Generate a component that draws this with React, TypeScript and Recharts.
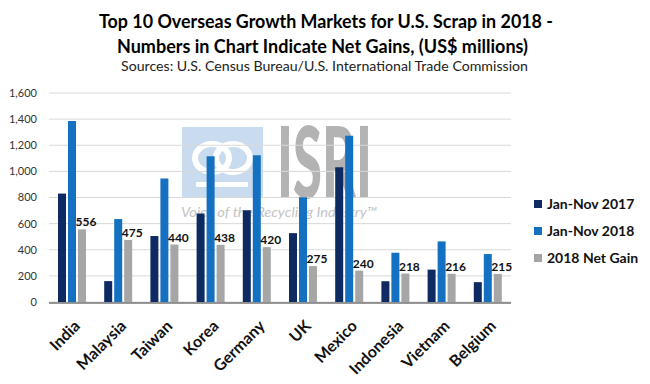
import { BarChart, Bar, XAxis, YAxis, CartesianGrid, LabelList } from "recharts";

const countries = ["India", "Malaysia", "Taiwan", "Korea", "Germany", "UK", "Mexico", "Indonesia", "Vietnam", "Belgium"];
const janNov2017 = [830, 160, 505, 677, 703, 527, 1032, 159, 248, 152];
const janNov2018 = [1386, 635, 945, 1115, 1123, 802, 1272, 377, 464, 367];
const netGain2018 = [556, 475, 440, 438, 420, 275, 240, 218, 216, 215];
const yTicks = [0, 200, 400, 600, 800, 1000, 1200, 1400, 1600];
const boundaryTicks = [0, 1, 2, 3, 4, 5, 6, 7, 8, 9, 10];

const seriesNames = ["Jan-Nov 2017", "Jan-Nov 2018", "2018 Net Gain"];
const colors = ["#0e2a63", "#1471c2", "#a6a6a6"];

const data = countries.map((c, i) => ({
  country: c,
  y2017: janNov2017[i],
  y2018: janNov2018[i],
  gain: netGain2018[i],
}));

const FONT = "Lato, 'Open Sans', sans-serif";

const CountryTick = ({ x, y, payload }: any) => {
  const ax = x + 9;
  const ay = y + 17;
  return (
    <text
      x={ax}
      y={ay}
      transform={`rotate(-45 ${ax} ${ay})`}
      textAnchor="end"
      fontFamily={FONT}
      fontWeight="bold"
      fontSize={16}
      fill="#111"
    >
      {payload.value}
    </text>
  );
};

const LegendBox = () => (
  <div
    style={{
      position: "absolute",
      left: 534,
      top: 190,
      fontFamily: FONT,
      fontWeight: "bold",
      fontSize: 14,
      color: "#111",
    }}
  >
    {seriesNames.map((name, i) => (
      <div key={name} style={{ display: "flex", alignItems: "center", height: 27 }}>
        <span style={{ width: 8, height: 8, background: colors[i], marginRight: 5, display: "inline-block" }} />
        {name}
      </div>
    ))}
  </div>
);

const Watermark = () => (
  <svg width={650} height={384} style={{ position: "absolute", left: 0, top: 0 }}>
    <rect x={182} y={127} width={81} height={71} fill="#c9dcef" />
    <ellipse cx={212} cy={158} rx={17} ry={14} fill="none" stroke="#fff" strokeWidth={6} />
    <ellipse cx={233} cy={158} rx={17} ry={14} fill="none" stroke="#fff" strokeWidth={6} />
    <rect x={196} y={182} width={52} height={5} fill="#fff" />
    <text x={277} y={198} fontFamily={FONT} fontWeight="900" fontSize={99} fill="#b3b3b3" textLength={95} lengthAdjust="spacingAndGlyphs">
      ISRI
    </text>
    <text x={181} y={217} fontFamily={FONT} fontStyle="italic" fontSize={14} fill="#c4c4c4" textLength={196} lengthAdjust="spacingAndGlyphs">
      Voice of the Recycling Industry™
    </text>
  </svg>
);

const Titles = () => (
  <svg width={650} height={384} style={{ position: "absolute", left: 0, top: 0, pointerEvents: "none" }}>
    <text x={99} y={28} fontFamily={FONT} fontWeight="bold" fontSize={18} fill="#000" textLength={454} lengthAdjust="spacingAndGlyphs">
      Top 10 Overseas Growth Markets for U.S. Scrap in 2018 -
    </text>
    <text x={117} y={52.5} fontFamily={FONT} fontWeight="bold" fontSize={18} fill="#000" textLength={411} lengthAdjust="spacingAndGlyphs">
      Numbers in Chart Indicate Net Gains, (US$ millions)
    </text>
    <text x={121} y={71} fontFamily={FONT} fontSize={13} fill="#222" textLength={407} lengthAdjust="spacingAndGlyphs">
      Sources: U.S. Census Bureau/U.S. International Trade Commission
    </text>
  </svg>
);

export default function App() {
  return (
    <div style={{ position: "absolute", left: 0, top: 0, width: 650, height: 384, background: "#fff" }}>
      <Watermark />
      <div style={{ position: "absolute", left: 0, top: 0 }}>
        <BarChart
          width={650}
          height={384}
          data={data}
          margin={{ top: 93, right: 139, bottom: 80, left: 0 }}
          barCategoryGap={9}
          barGap={2}
        >
          <CartesianGrid horizontal vertical={false} stroke="#d9d9d9" />
          <XAxis
            xAxisId="bounds"
            type="number"
            domain={[0, 10]}
            ticks={boundaryTicks}
            allowDataOverflow
            height={1}
            tick={false}
            tickSize={4}
            axisLine={{ stroke: "#333" }}
            tickLine={{ stroke: "#333" }}
          />
          <XAxis
            dataKey="country"
            height={1}
            axisLine={false}
            tickLine={false}
            interval={0}
            tick={<CountryTick />}
          />
          <YAxis
            width={49}
            domain={[0, 1600]}
            ticks={yTicks}
            axisLine={false}
            tickLine={false}
            tickMargin={6}
            tickFormatter={(v: number) => v.toLocaleString("en-US")}
            tick={{ fontFamily: FONT, fontSize: 11, fill: "#333" }}
          />
          <Bar dataKey="y2017" name={seriesNames[0]} fill={colors[0]} isAnimationActive={false} />
          <Bar dataKey="y2018" name={seriesNames[1]} fill={colors[1]} isAnimationActive={false} />
          <Bar dataKey="gain" name={seriesNames[2]} fill={colors[2]} isAnimationActive={false}>
            <LabelList
              dataKey="gain"
              position="top"
              offset={3}
              dx={4}
              fontFamily={FONT}
              fontWeight="bold"
              fontSize={12}
              fill="#111"
            />
          </Bar>
        </BarChart>
      </div>
      <LegendBox />
      <Titles />
    </div>
  );
}
